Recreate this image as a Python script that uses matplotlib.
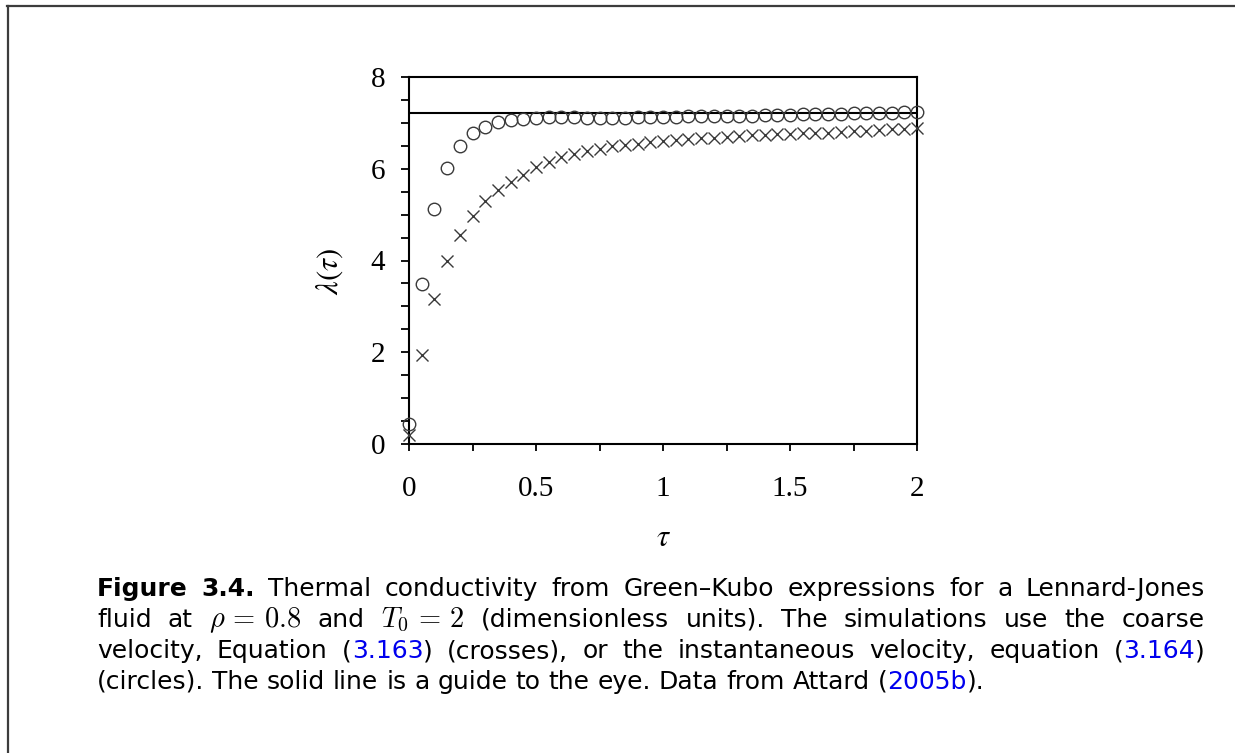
import numpy as np
import matplotlib
matplotlib.use("Agg")
import matplotlib.pyplot as plt
from matplotlib.lines import Line2D
from matplotlib.ticker import MultipleLocator

# ---------------- data ----------------
tau = [0.00, 0.05, 0.10, 0.15, 0.20, 0.25, 0.30, 0.35, 0.40, 0.45,
       0.50, 0.55, 0.60, 0.65, 0.70, 0.75, 0.80, 0.85, 0.90, 0.95,
       1.00, 1.05, 1.10, 1.15, 1.20, 1.25, 1.30, 1.35, 1.40, 1.45,
       1.50, 1.55, 1.60, 1.65, 1.70, 1.75, 1.80, 1.85, 1.90, 1.95, 2.00]
lam_circles = [0.43, 3.48, 5.13, 6.02, 6.50, 6.77, 6.92, 7.01, 7.06, 7.09,
               7.11, 7.12, 7.12, 7.12, 7.11, 7.11, 7.11, 7.11, 7.12, 7.12,
               7.13, 7.13, 7.14, 7.14, 7.15, 7.15, 7.16, 7.16, 7.17, 7.18,
               7.18, 7.19, 7.19, 7.20, 7.20, 7.21, 7.21, 7.22, 7.22, 7.23, 7.23]
lam_crosses = [0.20, 1.93, 3.16, 4.00, 4.55, 4.97, 5.29, 5.53, 5.71, 5.87,
               6.03, 6.15, 6.25, 6.32, 6.39, 6.44, 6.49, 6.52, 6.55, 6.58,
               6.60, 6.62, 6.64, 6.66, 6.68, 6.70, 6.71, 6.73, 6.74, 6.75,
               6.76, 6.77, 6.78, 6.79, 6.80, 6.82, 6.83, 6.84, 6.86, 6.87, 6.88]
guide_level = 7.22
x_ticks = [0, 0.5, 1, 1.5, 2]
x_ticklabels = ["0", "0.5", "1", "1.5", "2"]
y_ticks = [0, 2, 4, 6, 8]
y_ticklabels = ["0", "2", "4", "6", "8"]

W, H = 1235, 753
fig = plt.figure(figsize=(W / 100, H / 100), dpi=100)
fig.patch.set_facecolor("white")

# axes placement (pixels)
axL, axR, axT, axB = 409, 917, 77, 444
ax = fig.add_axes([axL / W, 1 - axB / H, (axR - axL) / W, (axB - axT) / H])

mcol = "#3a3a3a"
ax.plot(tau, lam_circles, linestyle="none", marker="o", markersize=9,
        markerfacecolor="none", markeredgecolor=mcol, markeredgewidth=1.0,
        clip_on=False, zorder=3)
ax.plot(tau, lam_crosses, linestyle="none", marker="x", markersize=8.8,
        markeredgecolor=mcol, markeredgewidth=1.0, clip_on=False, zorder=3)
ax.axhline(guide_level, color="black", linewidth=1.5, zorder=2)

ax.set_xlim(0, 2)
ax.set_ylim(0, 8)
ax.set_xticks(x_ticks)
ax.set_yticks(y_ticks)
serif = "Liberation Serif"
ax.set_xticklabels(x_ticklabels, fontfamily=serif, fontsize=21)
ax.set_yticklabels(y_ticklabels, fontfamily=serif, fontsize=21)
ax.xaxis.set_minor_locator(MultipleLocator(0.25))
ax.yaxis.set_minor_locator(MultipleLocator(0.5))
ax.tick_params(which="both", direction="out", width=1.3, color="black")
ax.tick_params(axis="x", which="both", length=5, pad=18)
ax.tick_params(axis="y", which="both", length=6, pad=11)
ax.tick_params(top=False, right=False)
for s in ax.spines.values():
    s.set_linewidth(1.5)
    s.set_color("black")

fig.text(330 / W, 1 - 271 / H, r"$\lambda(\tau)$", rotation=90, fontsize=22,
         ha="center", va="center", math_fontfamily="stix")
fig.text(663 / W, 1 - 537 / H, r"$\tau$", fontsize=22,
         ha="center", va="center", math_fontfamily="stix")

# figure frame (left and top edges)
fr = "#3c3c3c"
fig.add_artist(Line2D([7.5 / W, 7.5 / W], [0, 1 - 6 / H], transform=fig.transFigure,
                      color=fr, linewidth=1.6))
fig.add_artist(Line2D([6.7 / W, 1], [1 - 6 / H, 1 - 6 / H], transform=fig.transFigure,
                      color=fr, linewidth=1.6))

# ---------------- caption (justified) ----------------
fs = 18
blue = "#0000ee"
N = {}
B = {"weight": "bold"}
L = {"color": blue}
M = {"math": True}

lines = [
    [[("Figure", B)], [("3.4.", B)], [("Thermal", N)], [("conductivity", N)], [("from", N)],
     [("Green–Kubo", N)], [("expressions", N)], [("for", N)], [("a", N)], [("Lennard-Jones", N)]],
    [[("fluid", N)], [("at", N)], [(r"$\rho\,=\,0.8$", M)], [("and", N)], [(r"$T_0\,=\,2$", M)],
     [("(dimensionless", N)], [("units).", N)], [("The", N)], [("simulations", N)], [("use", N)],
     [("the", N)], [("coarse", N)]],
    [[("velocity,", N)], [("Equation", N)], [("(", N), ("3.163", L), (")", N)], [("(crosses),", N)],
     [("or", N)], [("the", N)], [("instantaneous", N)], [("velocity,", N)], [("equation", N)],
     [("(", N), ("3.164", L), (")", N)]],
    [[("(circles).", N)], [("The", N)], [("solid", N)], [("line", N)], [("is", N)], [("a", N)],
     [("guide", N)], [("to", N)], [("the", N)], [("eye.", N)], [("Data", N)], [("from", N)],
     [("Attard", N)], [("(", N), ("2005b", L), (").", N)]],
]
justify = [True, True, True, False]
x_left, x_right = 97, 1205
baselines = [596, 627, 658, 689]

renderer = fig.canvas.get_renderer()


def make_run(txt, props):
    kw = dict(fontsize=fs, va="baseline", ha="left", color=props.get("color", "black"),
              fontweight=props.get("weight", "normal"), family="DejaVu Sans")
    if props.get("math"):
        kw["math_fontfamily"] = "cm"
        kw["fontsize"] = fs + 2.5
    return fig.text(0, 0, txt, **kw)


natural_gap = 0.318 * fs * 100 / 72
for words, just, yb in zip(lines, justify, baselines):
    built = []
    total = 0.0
    for word in words:
        runs = []
        wsum = 0.0
        for txt, props in word:
            t = make_run(txt, props)
            w = t.get_window_extent(renderer).width
            runs.append((t, w))
            wsum += w
        built.append((runs, wsum))
        total += wsum
    if just:
        gap = (x_right - x_left - total) / (len(built) - 1)
    else:
        gap = natural_gap
    x = x_left
    for runs, wsum in built:
        xx = x
        for t, w in runs:
            t.set_position((xx / W, 1 - yb / H))
            xx += w
        x += wsum + gap

fig.savefig("out.png", dpi=100, facecolor="white")
